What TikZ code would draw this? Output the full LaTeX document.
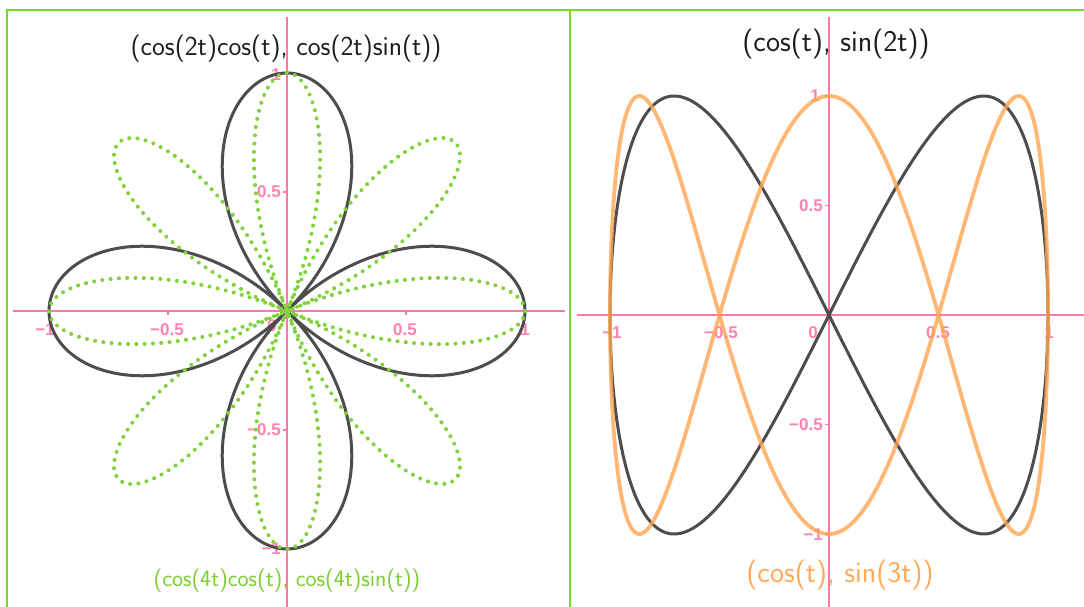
\documentclass[tikz,border=0pt]{standalone}
\usepackage{fontspec}
\newfontfamily\tickfont{Liberation Sans}
\definecolor{bordergreen}{RGB}{125,215,35}
\definecolor{darkc}{RGB}{77,77,77}
\definecolor{greenc}{RGB}{130,210,60}
\definecolor{orangec}{RGB}{255,165,80}
\definecolor{axispink}{RGB}{255,120,170}
\definecolor{ticklab}{RGB}{255,130,175}
\definecolor{titleblack}{RGB}{30,30,30}
\definecolor{greenlab}{RGB}{125,205,50}
\definecolor{orangelab}{RGB}{255,170,90}
\tikzset{
  frameline/.style={draw=bordergreen,line width=2pt},
  axisline/.style={draw=axispink,line width=1.3pt},
  tickmark/.style={draw=axispink,line width=1.3pt},
  ticklabel/.style={text=ticklab,font=\tickfont\bfseries\fontsize{17}{19}\selectfont,inner sep=0pt},
  darkcurve/.style={draw=darkc,line width=3pt,line join=round},
  greendots/.style={draw=greenc,line width=4pt,line cap=round,dash pattern=on 0.1pt off 8.2pt},
  orangecurve/.style={draw=orangec,draw opacity=0.8,line width=3.8pt,line join=round},
  titletext/.style={text=titleblack,inner sep=0pt},
}
\begin{document}
\begin{tikzpicture}[x=1pt,y=-1pt]
\useasboundingbox (0,0) rectangle (1084,607);
\fill[white] (0,0) rectangle (1084,607);
% frames
\draw[frameline] (7,607) -- (7,10) -- (1084,10);
\draw[frameline] (570,10) -- (570,607);
% ---------- left panel ----------
\draw[axisline] (13,311) -- (565,311);
\draw[axisline] (287,17) -- (287,607);
\foreach \v in {-1,-0.5,0.5,1}{
  \draw[tickmark] ({287+238*\v},311) -- ++(0,4);
  \draw[tickmark] (287,{311-238*\v}) -- ++(-4,0);
}
\node[ticklabel] (lxm1) at (45,330) {−1};
\node[ticklabel] (lxm05) at (167,330) {−0.5};
\node[ticklabel] (lx0) at (272,326) {0};
\node[ticklabel] (lx05) at (405,330) {0.5};
\node[ticklabel] (lx1) at (525,330) {1};
\node[ticklabel,anchor=east] (ly1) at (281,75) {1};
\node[ticklabel,anchor=east] (ly05) at (281,192) {0.5};
\node[ticklabel,anchor=east] (lym05) at (281,430) {−0.5};
\node[ticklabel,anchor=east] (lym1) at (281,549) {−1};
\draw[darkcurve] plot[domain=0:360,samples=500,smooth] ({287+238*cos(2*\x)*cos(\x)},{311-238*cos(2*\x)*sin(\x)});
\draw[greendots] plot[domain=0:360,samples=900] ({287+238*cos(4*\x)*cos(\x)},{311-238*cos(4*\x)*sin(\x)});
\node[titletext,font=\sffamily\fontsize{27.4}{32}\selectfont] (ltitle) at (286,49) {(cos(2t)cos(t), cos(2t)sin(t))};
\node[text=greenlab,inner sep=0pt,font=\sffamily\fontsize{23.5}{28}\selectfont] (llabel) at (287,581) {(cos(4t)cos(t), cos(4t)sin(t))};
% ---------- right panel ----------
\draw[axisline] (577,315) -- (1084,315);
\draw[axisline] (829,17) -- (829,607);
\foreach \v in {-1,-0.5,0.5,1}{
  \draw[tickmark] ({829+219*\v},315) -- ++(0,4);
  \draw[tickmark] (829,{315-219*\v}) -- ++(-4,0);
}
\node[ticklabel] (rxm1) at (612,333) {−1};
\node[ticklabel] (rxm05) at (721,333) {−0.5};
\node[ticklabel] (rx0) at (813,333) {0};
\node[ticklabel] (rx05) at (938,333) {0.5};
\node[ticklabel] (rx1) at (1049,333) {1};
\node[ticklabel,anchor=east] (ry1) at (820,96) {1};
\node[ticklabel,anchor=east] (ry05) at (823,206) {0.5};
\node[ticklabel,anchor=east] (rym05) at (823,425) {−0.5};
\node[ticklabel,anchor=east] (rym1) at (823,535) {−1};
\draw[darkcurve] plot[domain=0:360,samples=500,smooth] ({829+219*cos(\x)},{315-219*sin(2*\x)});
\draw[orangecurve] plot[domain=0:360,samples=500,smooth] ({829+219*cos(\x)},{315-219*sin(3*\x)});
\node[titletext,font=\sffamily\fontsize{30}{34}\selectfont] (rtitle) at (836,44) {(cos(t), sin(2t))};
\node[text=orangelab,inner sep=0pt,font=\sffamily\fontsize{30}{34}\selectfont] (rlabel) at (840,575) {(cos(t), sin(3t))};
\end{tikzpicture}
\end{document}
